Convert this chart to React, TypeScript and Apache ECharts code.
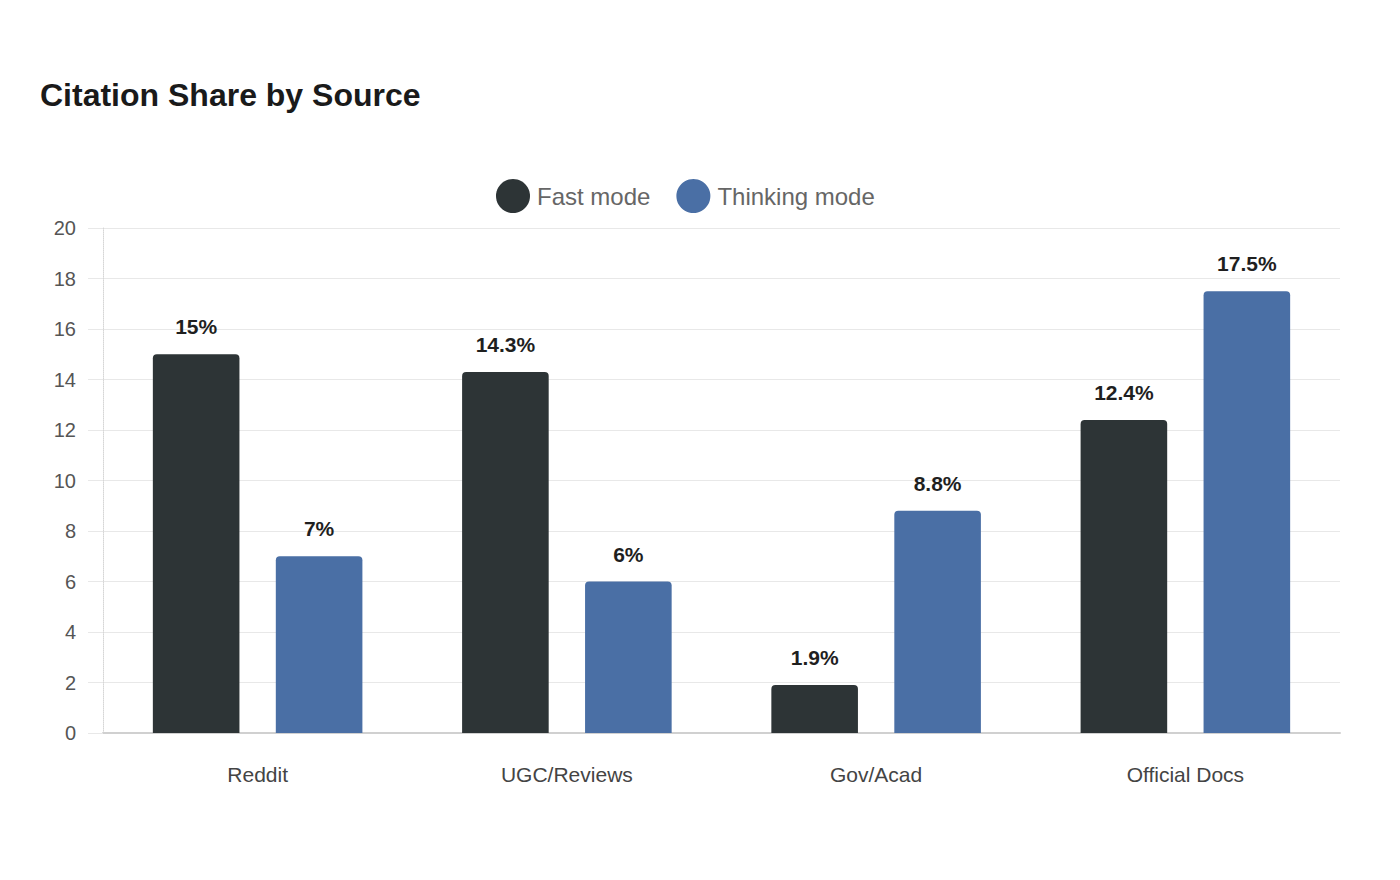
import React, { useEffect, useRef } from "react";
import * as echarts from "echarts";

const categories = ["Reddit", "UGC/Reviews", "Gov/Acad", "Official Docs"];
const fastMode = [15, 14.3, 1.9, 12.4];
const thinkingMode = [7, 6, 8.8, 17.5];
const seriesNames = ["Fast mode", "Thinking mode"];
const colors = ["#2d3436", "#4a6fa5"];

export default function App() {
  const ref = useRef<HTMLDivElement>(null);
  useEffect(() => {
    if (!ref.current) return;
    const chart = echarts.init(ref.current, null, { renderer: "svg" });
    const font = "'Liberation Sans', Arial, Helvetica, sans-serif";
    const label = {
      show: true,
      position: "top",
      distance: 17,
      fontSize: 21,
      fontWeight: "bold",
      color: "#1f1f1f",
      fontFamily: font,
      formatter: (p: any) => `${p.value}%`,
    };
    chart.setOption({
      animation: false,
      textStyle: { fontFamily: font },
      title: {
        text: "Citation Share by Source",
        left: 35,
        top: 74,
        textStyle: { fontSize: 32, fontWeight: "bold", color: "#1a1a1a", fontFamily: font },
      },
      legend: {
        left: 491,
        top: 174,
        icon: "circle",
        itemWidth: 34,
        itemHeight: 34,
        itemGap: 26,
        textStyle: { fontSize: 24, color: "#666", fontFamily: font, padding: [0, 0, 0, 2] },
        data: seriesNames,
      },
      grid: { left: 103, right: 60, top: 228, bottom: 147, containLabel: false },
      xAxis: {
        type: "category",
        data: categories,
        axisLine: { show: true, lineStyle: { color: "#d0d0d0", width: 2 } },
        axisTick: { show: false },
        axisLabel: { fontSize: 21, color: "#444", margin: 31, fontFamily: font },
      },
      yAxis: {
        type: "value",
        min: 0,
        max: 20,
        interval: 2,
        axisLine: { show: true, lineStyle: { color: "#d6d6d6", type: "dotted", width: 1 } },
        axisTick: { show: true, length: 15, lineStyle: { color: "#e8e8e8" } },
        axisLabel: { fontSize: 20, color: "#555", margin: 27, fontFamily: font },
        splitLine: { show: true, lineStyle: { color: "#e8e8e8", width: 1 } },
      },
      series: [
        {
          name: seriesNames[0],
          type: "bar",
          data: fastMode,
          barWidth: "28%",
          barGap: "42%",
          itemStyle: { color: colors[0], borderRadius: [4, 4, 0, 0] },
          label,
        },
        {
          name: seriesNames[1],
          type: "bar",
          data: thinkingMode,
          barWidth: "28%",
          barGap: "42%",
          itemStyle: { color: colors[1], borderRadius: [4, 4, 0, 0] },
          label,
        },
      ],
    });
    return () => chart.dispose();
  }, []);
  return (
    <div
      ref={ref}
      style={{ position: "fixed", left: 0, top: 0, width: 1400, height: 880, background: "#fff" }}
    />
  );
}
